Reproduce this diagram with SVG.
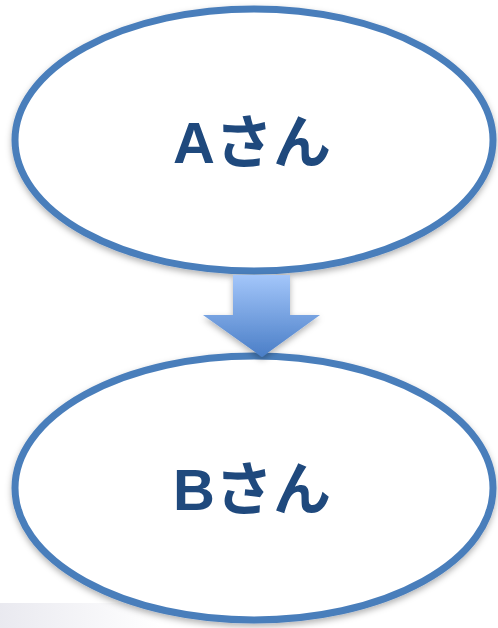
<svg xmlns="http://www.w3.org/2000/svg" width="498" height="628" viewBox="0 0 498 628">
<style>
.node ellipse{fill:#ffffff;stroke:#4A7EBB;stroke-width:7;filter:url(#sh)}
.label{font-family:"Liberation Sans","Noto Sans CJK JP",sans-serif;font-weight:bold;font-size:58px;fill:#1F497D;text-anchor:middle}
</style>
<defs>
<filter id="sh" x="-10%" y="-10%" width="120%" height="125%">
<feDropShadow dx="0" dy="3" stdDeviation="3" flood-color="#000" flood-opacity="0.3"/>
</filter>
<linearGradient id="ag" x1="0" y1="0" x2="0" y2="1">
<stop offset="0" stop-color="#A3C6FA"/>
<stop offset="1" stop-color="#4A7EC7"/>
</linearGradient>
<linearGradient id="smudge" x1="0" y1="0" x2="1" y2="0">
<stop offset="0" stop-color="#E4E4EC" stop-opacity="0.8"/>
<stop offset="1" stop-color="#E4E4EC" stop-opacity="0"/>
</linearGradient>
</defs>
<rect x="0" y="603" width="160" height="25" fill="url(#smudge)"/>
<g id="nodeA" class="node">
<ellipse cx="254" cy="140" rx="239" ry="131"/>
<text class="label" x="252" y="163">Aさん</text>
</g>
<g id="nodeB" class="node">
<ellipse cx="254" cy="488" rx="239" ry="132"/>
<text class="label" x="252" y="510">Bさん</text>
</g>
<g id="connectors">
<path d="M233,275 L290,275 L290,315 L320,315 L262,357 L203,315 L233,315 Z" fill="url(#ag)" filter="url(#sh)"/>
</g>
</svg>
